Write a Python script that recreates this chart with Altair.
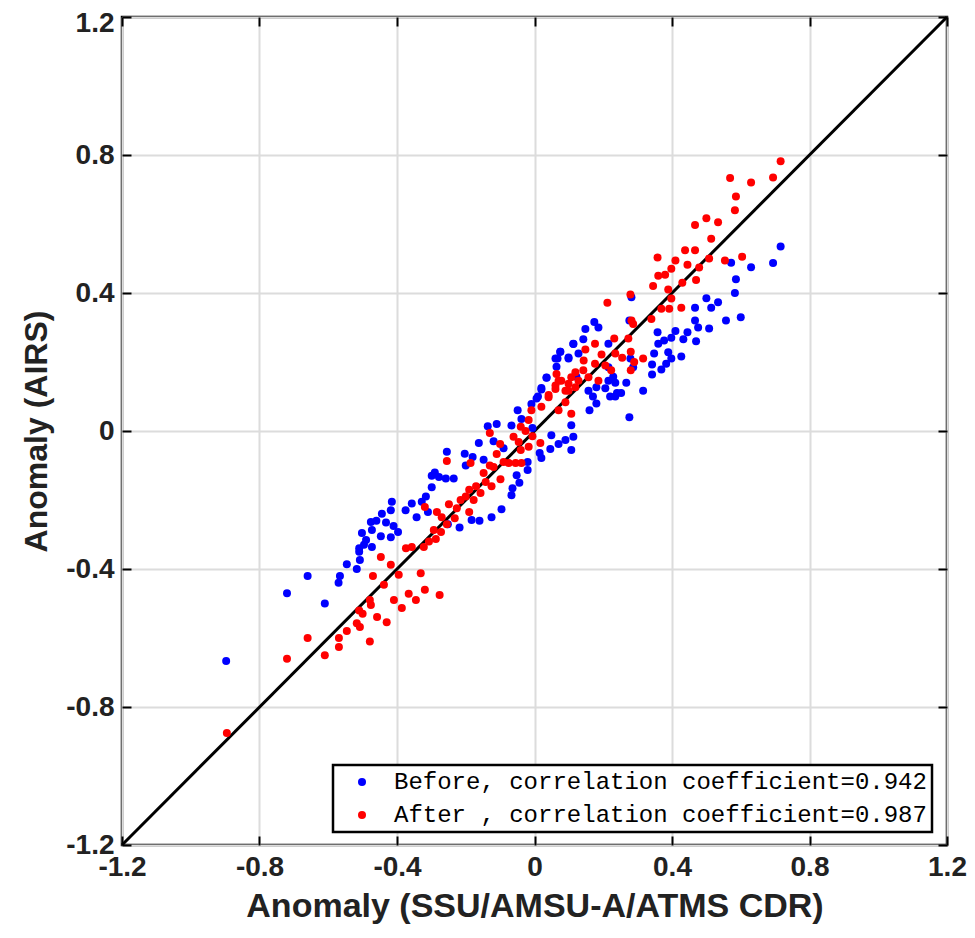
import altair as alt
import pandas as pd

# ---- data ----
tick_values = [-1.2, -0.8, -0.4, 0, 0.4, 0.8, 1.2]
series_names = ["Before, correlation coefficient=0.942",
                "After , correlation coefficient=0.987"]
series_colors = ["#0000ff", "#ff0000"]
diag = [-1.2, 1.2]

before_x = [-0.897, -0.72, -0.66, -0.61, -0.57, -0.566, -0.546, -0.517, -0.51, -0.508, -0.496, -0.476,
            0.113, 0.075, 0.067, 0.099, 0.035, 0.02, 0.006, -0.009, -0.049, -0.038, -0.067, -0.11, -0.136,
            -0.162, -0.119, -0.09, -0.255, -0.203, -0.18, -0.20, -0.148, -0.052, -0.02, -0.044, -0.064, -0.067,
            -0.096, -0.125, -0.16, -0.183, -0.218, -0.252, -0.235, -0.258, -0.29, -0.278, -0.299, -0.299,
            -0.316, -0.328, -0.357, -0.375, -0.343, -0.31, -0.415, -0.418, -0.444, -0.46, -0.432, -0.41,
            -0.397, -0.418, -0.447, -0.473, -0.502, -0.49, -0.51, -0.473, 0.049, 0.07, 0.09, 0.113, 0.046,
            0.015, 0.02, 0.107, 0.107, -0.02, -0.006,
            0.572, 0.63, 0.586, 0.583, 0.5, 0.534, 0.514, 0.467, 0.6, 0.557, 0.508, 0.467, 0.476, 0.445,
            0.41, 0.358, 0.433, 0.47, 0.398, 0.377, 0.36, 0.348, 0.389, 0.427, 0.398, 0.383, 0.342, 0.369,
            0.342, 0.316, 0.282, 0.276, 0.174, 0.186, 0.148, 0.113, 0.142, 0.075, 0.099, 0.128, 0.061,
            0.215, 0.279, 0.287, 0.215, 0.229, 0.235, 0.215, 0.18, 0.206, 0.267, 0.252, 0.235, 0.157,
            0.035, 0.02, 0.01, 0.064, 0.122, 0.716, 0.694,
            0.17, 0.18, 0.16, 0.22, 0.24, 0.276]
before_y = [-0.667, -0.47, -0.42, -0.50, -0.44, -0.42, -0.386, -0.40, -0.35, -0.374, -0.33, -0.264,
            0.252, 0.23, 0.21, 0.21, 0.155, 0.12, 0.094, 0.078, 0.06, 0.035, 0.016, 0.02, 0.014,
            -0.035, -0.03, -0.05, -0.06, -0.066, -0.075, -0.10, -0.083, -0.128, -0.113, -0.15, -0.166, -0.186,
            -0.227, -0.25, -0.26, -0.258, -0.28, -0.27, -0.138, -0.138, -0.12, -0.133, -0.13, -0.163,
            -0.19, -0.205, -0.21, -0.23, -0.25, -0.235, -0.205, -0.23, -0.24, -0.26, -0.265, -0.275,
            -0.293, -0.308, -0.305, -0.287, -0.296, -0.316, -0.34, -0.336, -0.012, -0.038, -0.026, -0.017, -0.052,
            -0.064, -0.078, -0.055, 0.017, -0.09, 0.009,
            0.488, 0.475, 0.44, 0.40, 0.385, 0.373, 0.357, 0.357, 0.33, 0.32, 0.297, 0.32, 0.30, 0.286,
            0.29, 0.286, 0.266, 0.26, 0.27, 0.262, 0.253, 0.225, 0.228, 0.216, 0.21, 0.195, 0.193, 0.178,
            0.164, 0.117, 0.388, 0.32, 0.316, 0.30, 0.296, 0.253, 0.266, 0.23, 0.213, 0.225, 0.21,
            0.253, 0.21, 0.185, 0.185, 0.157, 0.14, 0.146, 0.127, 0.124, 0.14, 0.11, 0.10, 0.117,
            0.154, 0.125, 0.10, 0.186, 0.157, 0.535, 0.487,
            0.10, 0.08, 0.06, 0.10, 0.11, 0.04]

after_x = [-0.895, -0.72, -0.66, -0.61, -0.569, -0.569, -0.546, -0.517, -0.508, -0.51, -0.50, -0.479, -0.479, -0.47,
           -0.447, -0.418, -0.395, -0.438, -0.409, -0.386, -0.366, -0.345, -0.319, -0.331, -0.276, -0.458, -0.476, -0.43,
           0.064, 0.061, 0.078, 0.107, 0.119, 0.099, 0.041, 0.02, -0.009, 0.07, 0.09, 0.107, -0.017, -0.04,
           -0.026, -0.061, -0.006, -0.046, -0.017, 0.017, -0.04, -0.075, -0.055, -0.038, -0.13, -0.1, -0.11,
           -0.09, -0.255, -0.186, -0.148, -0.13, -0.119, -0.142, -0.099, -0.125, -0.17, -0.19, -0.2, -0.177,
           -0.157, -0.215, -0.226, -0.19, -0.249, -0.284, -0.319, -0.27, -0.232, -0.255, -0.272, -0.293,
           -0.287, -0.307, -0.322, -0.374, -0.357,
           0.569, 0.63, 0.694, 0.586, 0.583, 0.5, 0.534, 0.467, 0.514, 0.438, 0.467, 0.508, 0.554, 0.604,
           0.358, 0.41, 0.445, 0.479, 0.398, 0.36, 0.38, 0.43, 0.47, 0.345, 0.389, 0.398, 0.279, 0.212,
           0.369, 0.392, 0.427, 0.282, 0.34, 0.287, 0.176, 0.232, 0.273, 0.148, 0.235, 0.195, 0.28, 0.255,
           0.316, 0.29, 0.143, 0.176, 0.206, 0.223, 0.28, 0.142, 0.157, 0.186, 0.128, 0.099, 0.07,
           0.061, 0.09, 0.041, 0.119, 0.716]
after_y = [-0.875, -0.66, -0.60, -0.65, -0.60, -0.626, -0.58, -0.557, -0.568, -0.52, -0.53, -0.61, -0.49, -0.42,
           -0.365, -0.388, -0.417, -0.446, -0.49, -0.513, -0.472, -0.49, -0.46, -0.412, -0.475, -0.539, -0.504, -0.554,
           0.165, 0.132, 0.146, 0.156, 0.17, 0.117, 0.098, 0.07, 0.06, 0.06, 0.083, 0.05, 0.032, 0.012,
           0.0, -0.017, -0.015, -0.032, -0.046, -0.035, -0.055, -0.093, -0.093, -0.093, -0.006, -0.038, -0.067,
           -0.09, -0.087, -0.093, -0.122, -0.10, -0.104, -0.148, -0.14, -0.16, -0.16, -0.17, -0.19, -0.20,
           -0.18, -0.20, -0.224, -0.235, -0.212, -0.235, -0.22, -0.25, -0.253, -0.27, -0.293, -0.287,
           -0.313, -0.32, -0.336, -0.34, -0.336,
           0.733, 0.72, 0.735, 0.68, 0.64, 0.617, 0.605, 0.597, 0.557, 0.524, 0.524, 0.50, 0.494, 0.505,
           0.503, 0.494, 0.482, 0.474, 0.47, 0.45, 0.453, 0.43, 0.438, 0.42, 0.41, 0.384, 0.396, 0.372,
           0.354, 0.354, 0.357, 0.32, 0.325, 0.31, 0.253, 0.268, 0.268, 0.236, 0.225, 0.222, 0.23, 0.212,
           0.21, 0.20, 0.204, 0.195, 0.19, 0.176, 0.176, 0.176, 0.156, 0.146, 0.146, 0.137, 0.146,
           0.122, 0.117, 0.104, 0.127, 0.782]

# ---- build tables ----
points = pd.DataFrame({
    "x": before_x + after_x,
    "y": before_y + after_y,
    "series": [series_names[0]] * len(before_x) + [series_names[1]] * len(after_x),
})
line_df = pd.DataFrame({"x": diag, "y": diag})

FONT = "Liberation Sans"
scale = alt.Scale(domain=[-1.2, 1.2], nice=False, zero=False)
label_expr = "toString(datum.value)"

line = alt.Chart(line_df).mark_line(color="black", strokeWidth=3).encode(
    x=alt.X("x:Q", scale=scale, axis=alt.Axis(
        values=tick_values, labelExpr=label_expr, orient="bottom", offset=-9, tickSize=9,
        tickColor="black", tickWidth=2, domain=False, grid=True, gridColor="#dcdcdc", gridWidth=2,
        labelPadding=8, labelFont=FONT, labelFontSize=28, labelFontWeight="bold", labelColor="#222",
        labelFlush=False, labelOverlap=False,
        title="Anomaly (SSU/AMSU-A/ATMS CDR)", titleFont=FONT, titleFontSize=34,
        titleFontWeight="bold", titleColor="#222", titlePadding=8)),
    y=alt.Y("y:Q", scale=scale, axis=alt.Axis(
        values=tick_values, labelExpr=label_expr, orient="left", offset=-9, tickSize=9,
        tickColor="black", tickWidth=2, domain=False, grid=True, gridColor="#dcdcdc", gridWidth=2,
        labelPadding=8, labelFont=FONT, labelFontSize=28, labelFontWeight="bold", labelColor="#222",
        labelFlush=False, labelOverlap=False,
        labelBaseline={"condition": {"test": "datum.value > 1.1", "value": "top"}, "value": "middle"},
        labelOffset={"condition": {"test": "datum.value > 1.1", "value": -8}, "value": 0},
        title="Anomaly (AIRS)", titleFont=FONT, titleFontSize=32,
        titleFontWeight="bold", titleColor="#222", titlePadding=12)),
)

dots = alt.Chart(points).mark_circle(size=64, opacity=1).encode(
    x=alt.X("x:Q", scale=scale, axis=alt.Axis(
        values=tick_values, orient="top", offset=-9, tickSize=9, tickColor="black", tickWidth=2,
        labels=False, domain=False, grid=False, title=None)),
    y=alt.Y("y:Q", scale=scale, axis=alt.Axis(
        values=tick_values, orient="right", offset=-9, tickSize=9, tickColor="black", tickWidth=2,
        labels=False, domain=False, grid=False, title=None)),
    color=alt.Color("series:N", scale=alt.Scale(domain=series_names, range=series_colors),
                    legend=alt.Legend(
                        title=None, orient="none", legendX=211, legendY=748, direction="vertical",
                        labelFont="Liberation Mono", labelFontSize=24, labelLimit=0, labelColor="black",
                        symbolType="circle", symbolSize=64, symbolStrokeWidth=0,
                        padding=5, rowPadding=9, symbolOffset=12, labelOffset=20,
                        fillColor="white")),
    order=alt.Order("idx:Q"),
).transform_window(idx="row_number()")

chart = alt.layer(line, dots).resolve_axis(x="independent", y="independent").properties(
    width=825, height=828,
    autosize=alt.AutoSizeParams(type="none"),
    padding={"left": 114, "top": 9, "right": 20, "bottom": 88},
).configure_view(stroke="black", strokeWidth=2.5).configure_legend(
    strokeColor="black", strokeWidth=2.5, cornerRadius=0)

chart.save("out.html", embed_options={"renderer": "svg", "actions": False})
